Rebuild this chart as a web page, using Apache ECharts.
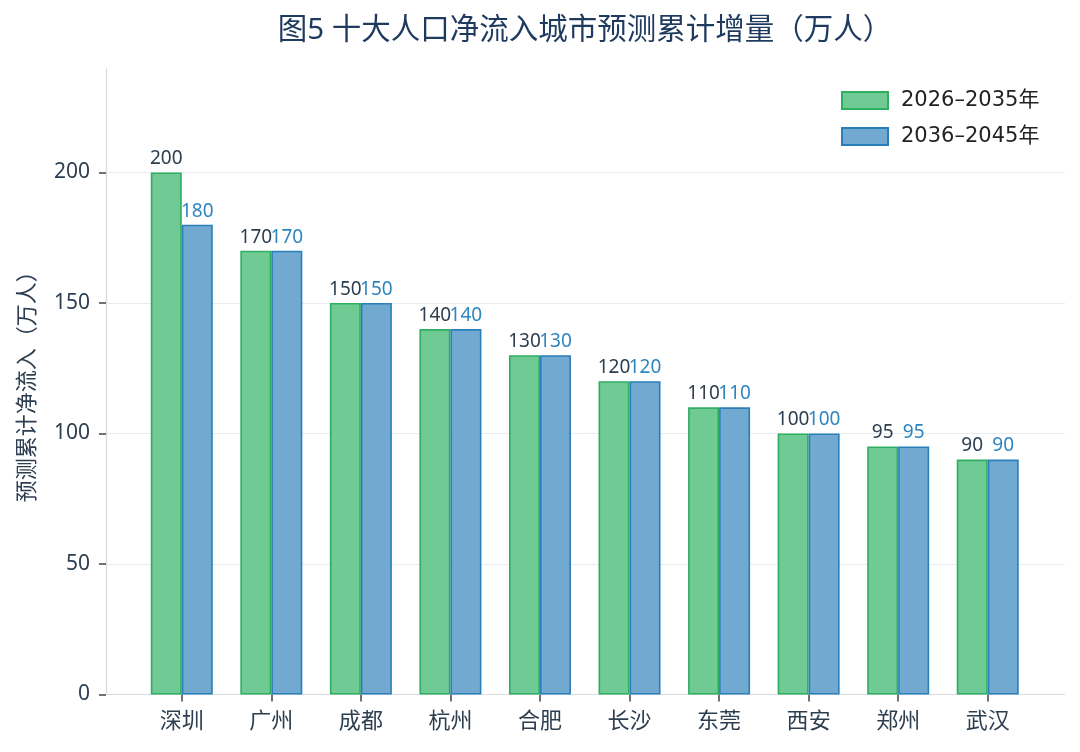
<!DOCTYPE html>
<html>
<head>
<meta charset="utf-8">
<script src="https://cdn.jsdelivr.net/npm/echarts@6/dist/echarts.min.js"></script>
<style>
  html, body { margin: 0; padding: 0; background: #fff; }
  #chart { width: 1080px; height: 752px; }
</style>
</head>
<body>
<div id="chart"></div>
<script>
var cities = ['深圳', '广州', '成都', '杭州', '合肥', '长沙', '东莞', '西安', '郑州', '武汉'];
var first_decade = [200, 170, 150, 140, 130, 120, 110, 100, 95, 90];
var second_decade = [180, 170, 150, 140, 130, 120, 110, 100, 95, 90];
var series_names = ['2026–2035年', '2036–2045年'];
var y_ticks = { min: 0, max: 200, interval: 50, top: 240 };

var FONT = '"Noto Sans", "Noto Sans CJK SC", sans-serif';
var WIDE_FONT = '"DejaVu Sans", "Noto Sans CJK SC", sans-serif';
var TEXT = '#2c3e50';
var SPINE = '#d8dde2';
var TICK = { color: '#444', width: 1.5 };

// plot box (pixels), bars sit in an inner box so the outer padding matches
var plot = { left: 106, right: 15, top: 68, bottom: 57.5 };
var bars = { left: 137, right: 47.5 };
var grid200_top = plot.top + (y_ticks.top - y_ticks.max) / y_ticks.top * (752 - plot.top - plot.bottom);

var myChart = echarts.init(document.getElementById('chart'));

var option = {
    backgroundColor: '#fff',
    animation: false,
    title: {
        text: '图5 十大人口净流入城市预测累计增量（万人）',
        left: 580,
        textAlign: 'center',
        top: 11,
        textStyle: { fontFamily: FONT, fontSize: 29.5, fontWeight: 'normal', color: '#1f3a5f' }
    },
    legend: {
        orient: 'vertical',
        left: 841,
        top: 90,
        padding: 0,
        icon: 'rect',
        itemWidth: 46,
        itemHeight: 17,
        itemGap: 15,
        data: series_names,
        textStyle: { fontFamily: WIDE_FONT, fontSize: 21, color: '#222', padding: [0, 0, 0, 8] }
    },
    grid: [
        { left: plot.left, right: plot.right, top: plot.top, bottom: plot.bottom },
        { left: plot.left, right: plot.right, top: grid200_top, bottom: plot.bottom },
        { left: bars.left, right: bars.right, top: plot.top, bottom: plot.bottom }
    ],
    xAxis: [
        {
            // frame only: bottom spine
            type: 'value', gridIndex: 0, min: 0, max: 1,
            axisLine: { show: true, lineStyle: { color: SPINE, width: 1.2 } },
            axisTick: { show: false }, axisLabel: { show: false }, splitLine: { show: false }
        },
        {
            type: 'value', gridIndex: 1, min: 0, max: 1, show: false
        },
        {
            type: 'category', gridIndex: 2, data: cities,
            axisLine: { show: true, lineStyle: { color: SPINE, width: 1.2 } },
            axisTick: { show: true, alignWithLabel: true, length: 7, lineStyle: TICK },
            axisLabel: { fontFamily: FONT, fontSize: 22, color: TEXT, margin: 16 },
            splitLine: { show: false }
        }
    ],
    yAxis: [
        {
            // frame only: left spine + axis name
            type: 'value', gridIndex: 0, min: 0, max: y_ticks.top,
            name: '预测累计净流入（万人）',
            nameLocation: 'middle',
            nameGap: 67,
            nameTextStyle: { fontFamily: FONT, fontSize: 22, color: TEXT },
            axisLine: { show: true, lineStyle: { color: SPINE, width: 1.2 } },
            axisTick: { show: false }, axisLabel: { show: false }, splitLine: { show: false }
        },
        {
            type: 'value', gridIndex: 1, min: y_ticks.min, max: y_ticks.max, interval: y_ticks.interval,
            axisLine: { show: true, lineStyle: { color: SPINE, width: 1.2 } },
            axisTick: { show: true, length: 7, lineStyle: TICK },
            axisLabel: { fontFamily: FONT, fontSize: 21, color: TEXT, margin: 16 },
            splitLine: { show: true, lineStyle: { color: '#e8ecef', width: 1 } }
        },
        {
            type: 'value', gridIndex: 2, min: 0, max: y_ticks.top, show: false
        }
    ],
    series: [
        {
            name: series_names[0],
            type: 'bar',
            xAxisIndex: 2, yAxisIndex: 2,
            data: first_decade,
            barWidth: 31,
            barGap: '0%',
            itemStyle: { color: '#6fca94', borderColor: '#2eae60', borderWidth: 1.6 },
            label: { show: true, position: 'top', distance: 4, fontFamily: FONT, fontSize: 19, color: TEXT }
        },
        {
            name: series_names[1],
            type: 'bar',
            xAxisIndex: 2, yAxisIndex: 2,
            data: second_decade,
            barWidth: 31,
            barGap: '0%',
            itemStyle: { color: '#72a9d1', borderColor: '#2a7fba', borderWidth: 1.6 },
            label: { show: true, position: 'top', distance: 4, fontFamily: FONT, fontSize: 19, color: '#2e86c1' }
        }
    ]
};

myChart.setOption(option);
</script>
</body>
</html>
